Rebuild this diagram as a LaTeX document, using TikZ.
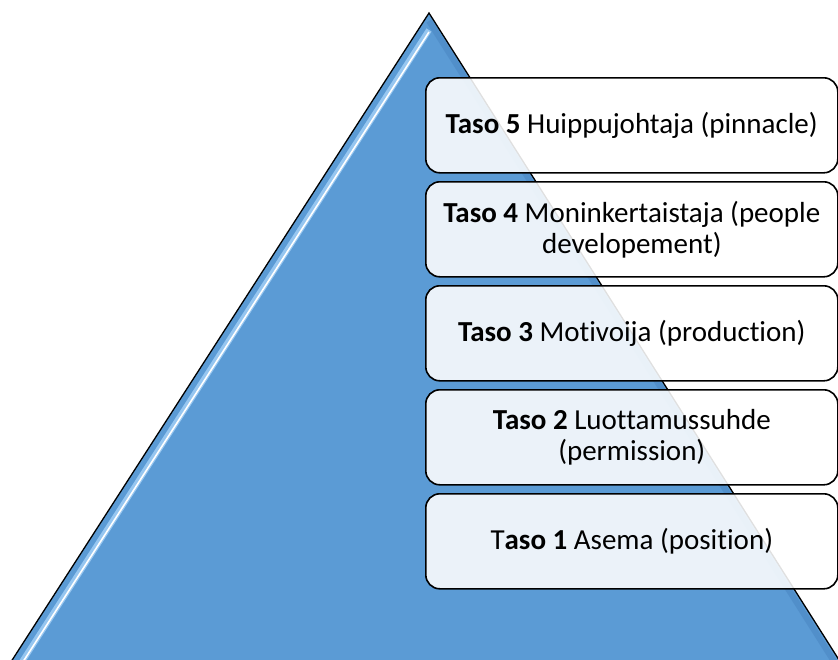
\documentclass[tikz,border=0pt]{standalone}
\usepackage{fontspec}
\setmainfont{Carlito}[Ligatures=NoCommon]
\usetikzlibrary{calc}
\begin{document}
\begin{tikzpicture}[x=1pt,y=-1pt,
  levelbox/.style={draw=black, line width=1.6pt, rounded corners=14pt, fill=white, fill opacity=0.88, text opacity=1,
    minimum width=412pt, minimum height=95pt, anchor=north west, inner sep=0pt, align=flush center, text width=410pt,
    font=\fontsize{29}{31}\selectfont}]
\useasboundingbox (0,0) rectangle (838,659);
\begin{scope}
\clip (0,0) rectangle (838,659);
\coordinate (apex) at (429,13);
\coordinate (bl) at (-2,682);
\coordinate (br) at (853,682);
\fill[fill={rgb,255:red,91;green,155;blue,213}] (apex) -- (bl) -- (br) -- cycle;
% bevel highlight on left edge
\draw[line width=6pt, color={rgb,255:red,150;green,198;blue,240}] ($(apex)+(0,17)$) -- ($(bl)+(11,0)$);
\draw[line width=1.6pt, white] ($(apex)+(0,19)$) -- ($(bl)+(12,0)$);
% shading on right edge
\draw[line width=6pt, color={rgb,255:red,75;green,135;blue,195}, opacity=0.6] ($(apex)+(0,8)$) -- ($(br)+(-6,0)$);
\draw[line width=1.3pt, black, line join=miter] (bl) -- (apex) -- (br);
\end{scope}
\node[levelbox] (l5) at (425,77) {\textbf{Taso 5} Huippujohtaja (pinnacle)};
\node[levelbox] (l4) at (425,181) {\textbf{Taso 4} Moninkertaistaja (people\\developement)};
\node[levelbox] (l3) at (425,285) {\textbf{Taso 3} Motivoija (production)};
\node[levelbox] (l2) at (425,389) {\textbf{Taso 2} Luottamussuhde\\(permission)};
\node[levelbox] (l1) at (425,493) {T\textbf{aso 1} Asema (position)};
\end{tikzpicture}
\end{document}
